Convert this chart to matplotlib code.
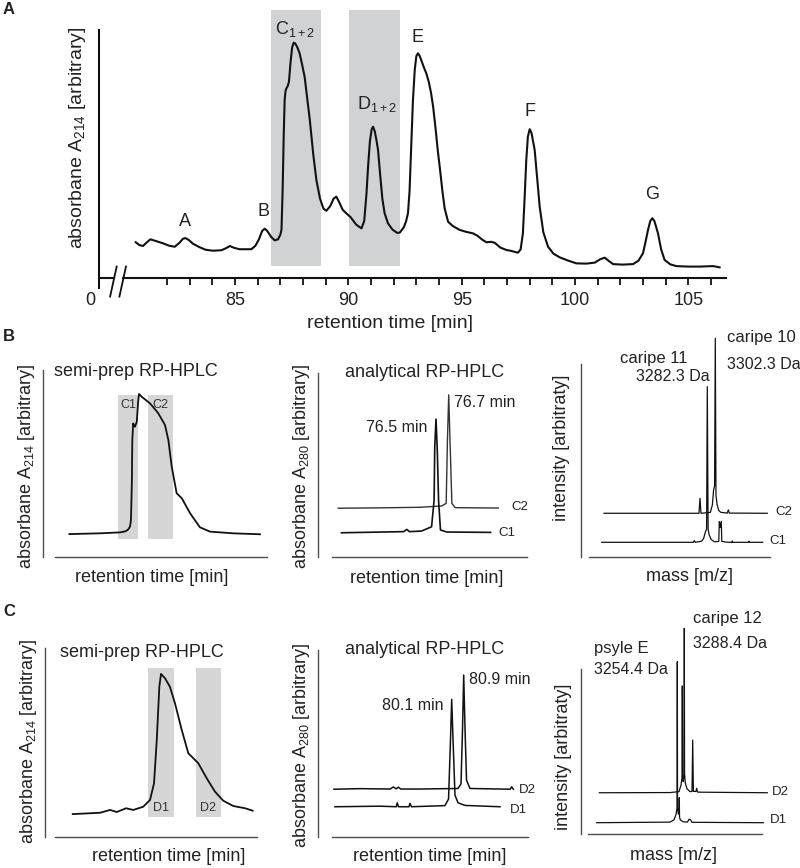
import matplotlib
matplotlib.use('Agg')
import matplotlib.pyplot as plt

# ---- panel A: full chromatogram (retention time in min, absorbance arbitrary) ----
trace_t = [80.62, 80.78, 80.94, 81.1, 81.27, 81.55, 81.82, 82.1, 82.34, 82.55, 82.7, 82.81,
           82.95, 83.15, 83.44, 83.7, 84.03, 84.4, 84.6, 84.77, 84.95, 85.2, 85.72, 85.9,
           86.05, 86.2, 86.31, 86.42, 86.6, 86.75, 86.9, 87.0, 87.05, 87.1, 87.15, 87.19,
           87.23, 87.27, 87.33, 87.38, 87.45, 87.52, 87.59, 87.66, 87.75, 87.85, 87.95, 88.07,
           88.18, 88.3, 88.45, 88.59, 88.75, 88.9, 89.03, 89.2, 89.35, 89.47, 89.6, 89.75,
           89.91, 90.1, 90.35, 90.58, 90.7, 90.8, 90.87, 90.95, 91.03, 91.09, 91.17, 91.25,
           91.31, 91.4, 91.5, 91.6, 91.75, 91.95, 92.15, 92.27, 92.45, 92.55, 92.63, 92.7,
           92.78, 92.85, 92.93, 93.0, 93.07, 93.15, 93.25, 93.35, 93.44, 93.55, 93.65, 93.74,
           93.85, 93.95, 94.03, 94.15, 94.25, 94.4, 94.6, 94.91, 95.2, 95.5, 95.7, 95.9,
           96.09, 96.3, 96.46, 96.7, 96.97, 97.2, 97.48, 97.6, 97.7, 97.78, 97.85, 97.92,
           98.0, 98.08, 98.15, 98.22, 98.33, 98.44, 98.6, 98.81, 99.05, 99.33, 99.7, 100.06,
           100.5, 100.87, 101.1, 101.31, 101.5, 101.68, 102.1, 102.56, 102.8, 103.0, 103.12,
           103.22, 103.32, 103.41, 103.5, 103.58, 103.66, 103.8, 103.95, 104.2, 104.47, 105.0,
           105.5, 106.09, 106.38]
trace_y = [14.4, 13.3, 12.9, 14.3, 15.6, 14.8, 14.0, 13.0, 12.6, 14.2, 15.8, 16.1,
           15.4, 13.8, 12.4, 11.4, 11.0, 11.2, 12.0, 12.9, 12.2, 11.6, 11.6, 13.0,
           15.5, 19.0, 19.9, 19.0, 16.5, 15.2, 15.6, 17.5, 19.4, 35.0, 58.0, 71.8,
           75.5, 76.5, 77.5, 79.2, 87.0, 93.0, 94.9, 94.5, 93.0, 90.6, 86.5, 81.2,
           73.0, 63.7, 50.0, 39.5, 32.0, 28.0, 27.1, 29.0, 32.0, 32.8, 30.5, 27.5,
           26.1, 24.5, 21.5, 20.0, 23.0, 34.0, 44.9, 55.0, 60.0, 61.0, 59.0, 55.0,
           51.6, 42.0, 32.0, 26.1, 22.0, 19.5, 18.2, 18.3, 20.5, 23.0, 26.1, 35.0,
           55.0, 71.8, 84.0, 89.5, 90.6, 89.5, 87.0, 84.5, 82.5, 79.0, 74.5, 69.1,
           60.0, 51.0, 44.9, 35.0, 28.0, 22.7, 21.0, 19.4, 18.6, 18.0, 17.0, 15.5,
           14.4, 14.6, 14.2, 12.3, 11.3, 10.9, 10.2, 11.5, 18.0, 33.0, 47.6, 57.0,
           60.0, 58.5, 55.0, 51.6, 40.0, 28.8, 18.5, 12.6, 9.8, 8.3, 7.0, 5.9,
           5.8, 6.2, 7.5, 8.2, 6.8, 5.6, 5.4, 5.6, 7.0, 10.0, 15.0,
           19.4, 23.0, 24.1, 23.0, 20.5, 18.0, 11.5, 7.3, 5.5, 4.8, 4.6,
           4.6, 4.8, 4.3]
fraction_names = ['C', 'D']
fraction_start = [86.6, 90.03]
fraction_end = [88.81, 92.27]
peak_labels = ['A', 'B', r'C$_\mathregular{1+2}$', r'D$_\mathregular{1+2}$', 'E', 'F', 'G']
peak_label_t = [82.81, 86.24, 87.65, 91.27, 93.07, 98.03, 103.41]
peak_label_y = [22.7, 26.7, 100.3, 70.2, 96.9, 67.3, 33.7]
major_ticks = [85, 90, 95, 100, 105]
minor_ticks = [82, 83, 84, 86, 87, 88, 89, 91, 92, 93, 94, 96, 97, 98, 99, 101, 102, 103, 104, 106]

# ---- panel B ----
semi_b_x = [11.9, 25.6, 34.5, 37.0, 38.2, 39.0, 39.4, 39.8, 40.0, 40.4, 40.8, 41.2, 42.0, 42.6,
            43.0, 44.2, 47.9, 51.6, 54.6, 56.1, 57.6, 59.8, 62.1, 65.8, 70.2, 74.7, 85.1, 97.0]
semi_b_y = [12.4, 12.8, 13.3, 13.9, 14.9, 16.5, 19.9, 40.0, 62.6, 71.5, 70.3, 69.7, 72.4, 83.0,
            87.2, 85.7, 82.2, 76.9, 70.6, 62.6, 48.4, 34.2, 31.5, 23.5, 16.0, 13.7, 12.8, 12.3]
shade_b_names = ['C1', 'C2']
shade_b_x0 = [33.8, 46.9]
shade_b_x1 = [42.4, 58.0]

anal_c2_t = [74.96, 75.6, 76.25, 76.59, 76.66, 76.68, 76.70, 76.72, 76.75, 76.80, 77.48]
anal_c2_y = [26.2, 26.4, 26.7, 27.4, 28.8, 62.6, 86.7, 62.6, 28.8, 26.5, 26.3]
anal_c1_t = [75.01, 75.99, 76.04, 76.08, 76.27, 76.43, 76.47, 76.48, 76.50, 76.52, 76.54,
             76.57, 76.67, 77.36]
anal_c1_y = [13.1, 13.7, 14.9, 13.7, 14.0, 16.3, 30.6, 59.1, 73.8, 57.3, 30.6, 14.6, 13.5, 13.3]

ms_c2_mz = [3024.1, 3261.5, 3264.0, 3266.5, 3290.0, 3295.0, 3298.0, 3300.5, 3302.3, 3304.0,
            3307.0, 3311.0, 3316.0, 3332.3, 3334.8, 3337.3, 3432.3]
ms_c2_i = [23.5, 23.5, 31.5, 23.5, 24.0, 28.0, 35.9, 38.0, 116.9, 33.0, 28.0, 25.0, 24.0,
           23.6, 25.3, 23.6, 23.5]
ms_c1_mz = [3018.3, 3247.3, 3249.8, 3252.3, 3268.0, 3273.0, 3277.8, 3280.5, 3282.3, 3284.3,
            3287.0, 3292.0, 3300.0, 3311.0, 3312.3, 3314.8, 3317.3, 3318.5, 3330.0, 3343.5,
            3344.8, 3346.1, 3385.0, 3386.5, 3388.0, 3420.8]
ms_c1_i = [8.0, 8.0, 8.9, 8.0, 8.6, 10.0, 13.7, 15.0, 91.1, 15.0, 12.0, 9.5, 8.3, 8.5, 19.0,
           16.0, 19.0, 8.5, 8.1, 8.0, 8.7, 8.0, 8.0, 8.6, 8.0, 8.0]

# ---- panel C ----
semi_c_x = [13.1, 26.0, 30.7, 33.9, 38.3, 41.7, 46.4, 49.6, 51.5, 52.8, 54.0, 54.8, 56.7,
            59.0, 61.4, 64.6, 67.7, 70.1, 72.4, 76.4, 80.3, 84.2, 88.9, 94.5, 98.1]
semi_c_y = [12.0, 12.7, 14.2, 13.1, 15.1, 14.2, 15.9, 19.5, 28.3, 51.3, 79.6, 86.4, 84.1,
            79.6, 70.8, 56.6, 44.3, 41.6, 39.0, 31.0, 23.9, 19.1, 16.3, 15.1, 13.8]
shade_c_names = ['D1', 'D2']
shade_c_x0 = [48.8, 71.4]
shade_c_x1 = [61.1, 83.0]

anal_d2_t = [72.25, 73.99, 76.0, 76.21, 76.4, 76.54, 76.7, 77.99, 80.52, 80.72, 80.82, 80.9,
             80.99, 81.09, 81.32, 84.0, 84.1, 84.21]
anal_d2_y = [25.2, 25.5, 25.3, 26.4, 25.4, 26.3, 25.3, 25.3, 25.6, 28.0, 56.6, 85.8, 56.6,
             30.0, 25.6, 25.2, 26.5, 25.2]
anal_d1_t = [72.32, 75.32, 76.4, 76.47, 76.55, 77.25, 77.32, 77.42, 79.65, 79.89, 80.02, 80.1,
             80.19, 80.32, 80.52, 80.99, 83.32]
anal_d1_y = [15.9, 16.2, 15.9, 18.0, 15.9, 15.9, 17.7, 15.9, 16.5, 20.0, 51.3, 72.9, 51.3,
             22.0, 18.0, 16.6, 15.9]

ms_d2_mz = [2875.6, 3218.9, 3262.7, 3272.4, 3277.5, 3278.7, 3280.0, 3283.5, 3287.2, 3288.4,
            3289.6, 3293.3, 3301.5, 3316.1, 3325.8, 3329.2, 3332.6, 3345.0, 3348.6, 3352.0,
            3364.6, 3691.5]
ms_d2_i = [21.9, 22.0, 22.5, 26.0, 30.0, 78.6, 30.0, 27.8, 32.0, 109.2, 32.0, 27.0, 24.0,
           22.5, 22.6, 49.9, 22.6, 22.6, 24.3, 22.3, 22.2, 21.9]
ms_d1_mz = [2863.0, 3219.0, 3238.4, 3248.1, 3253.2, 3254.4, 3255.6, 3259.3, 3263.0, 3264.1,
            3265.2, 3269.0, 3282.0, 3303.9, 3311.2, 3318.5, 3325.8, 3672.0]
ms_d1_i = [6.0, 6.3, 7.5, 10.4, 14.0, 91.5, 14.0, 10.6, 11.0, 19.3, 9.0, 7.5, 6.5, 6.3, 7.8,
           7.6, 6.2, 6.0]

plt.rcParams['font.family'] = ['Liberation Sans', 'DejaVu Sans']
plt.rcParams['mathtext.fontset'] = 'custom'
plt.rcParams['mathtext.rm'] = 'Liberation Sans'
plt.rcParams['mathtext.it'] = 'Liberation Sans:italic'
plt.rcParams['text.color'] = '#222222'

W, H = 800, 868
fig = plt.figure(figsize=(W / 100, H / 100), dpi=100)
INK = '#111111'
AXC = '#4d4d4d'


def add_box(l, t, r, b):
    # axes placed by pixel edges of the figure
    return fig.add_axes([l / W, 1 - b / H, (r - l) / W, (b - t) / H])


def ftext(x, y, s, **kw):
    kw.setdefault('ha', 'center')
    kw.setdefault('va', 'center')
    fig.text(x / W, 1 - y / H, s, **kw)


def small_axes(l, t, r, b, xlim, ylim, xstart, ytop):
    ax = add_box(l, t, r, b)
    ax.set_xlim(*xlim)
    ax.set_ylim(*ylim)
    ax.patch.set_alpha(0)
    for s in ['top', 'right']:
        ax.spines[s].set_visible(False)
    for s in ['left', 'bottom']:
        ax.spines[s].set_color(AXC)
        ax.spines[s].set_linewidth(1.0)
    ax.spines['left'].set_bounds(ylim[0], ytop)
    ax.spines['bottom'].set_bounds(xstart, xlim[1])
    ax.set_xticks([])
    ax.set_yticks([])
    return ax


# ================= panel A =================
axA = add_box(99, 10, 726, 278)
axA.set_xlim(79, 106.66)
axA.set_ylim(0, 108.06)
for s in axA.spines.values():
    s.set_visible(False)
for t0, t1 in zip(fraction_start, fraction_end):
    axA.fill_between([t0, t1], 5.0, 108.06, color='#d1d2d4', lw=0, zorder=0)
axA.plot(trace_t, trace_y, color=INK, lw=1.5, zorder=3)
axA.plot([79, 79], [-4, 100], color=INK, lw=1.5, clip_on=False)
axA.plot([79, 79.66], [0, 0], color=INK, lw=1.5, clip_on=False)
axA.plot([80.06, 106.66], [0, 0], color=INK, lw=1.5, clip_on=False)
axA.plot([79.49, 79.78], [-7.5, 4.6], color=INK, lw=1.3, clip_on=False)
axA.plot([79.90, 80.19], [-7.5, 4.6], color=INK, lw=1.3, clip_on=False)
axA.set_xticks(major_ticks)
axA.set_xticks(minor_ticks, minor=True)
axA.set_yticks([])
axA.tick_params(axis='x', which='both', length=5, width=1.3, color=INK,
                direction='out', pad=5, labelsize=13, labelcolor='#222222')
axA.text(78.6, -5.6, '0', ha='center', va='top', fontsize=13, clip_on=False)
for lab, t, y in zip(peak_labels, peak_label_t, peak_label_y):
    axA.text(t, y, lab, ha='center', va='center', fontsize=13)
ftext(77, 137.5, r'absorbane A$_\mathregular{214}$ [arbitrary]', rotation=90, fontsize=14)
ftext(389.7, 323, 'retention time [min]', fontsize=14)

# ================= panel B =================
axB1 = small_axes(42.7, 370, 266.7, 557.3, (0, 100), (0, 100), 5.5, 100)
for name, x0, x1 in zip(shade_b_names, shade_b_x0, shade_b_x1):
    axB1.fill_between([x0, x1], 9.7, 86.7, color='#d6d6d6', lw=0, zorder=0)
    axB1.text((x0 + x1) / 2, 81.3, name, ha='center', va='center', fontsize=9, color='#333333')
axB1.plot(semi_b_x, semi_b_y, color=INK, lw=1.3, zorder=3)

axB2 = small_axes(318.3, 373.3, 527, 557.3, (74.646, 77.933), (0, 98.24), 74.86, 98.24)
axB2.plot(anal_c2_t, anal_c2_y, color='#333333', lw=1.0, clip_on=False)
axB2.plot(anal_c1_t, anal_c1_y, color=INK, lw=1.2, clip_on=False)
axB2.text(75.88, 69.4, '76.5 min', ha='center', va='center', fontsize=11.5)
axB2.text(77.26, 82.5, '76.7 min', ha='center', va='center', fontsize=11.5)
axB2.text(77.82, 27.0, 'C2', ha='center', va='center', fontsize=9.5)
axB2.text(77.61, 12.8, 'C1', ha='center', va='center', fontsize=9.5)

axB3 = small_axes(581, 364, 770, 557.3, (2966.55, 3439.05), (0, 103.2), 2987.3, 103.2)
axB3.plot(ms_c2_mz, ms_c2_i, color=INK, lw=0.9, clip_on=False)
axB3.plot(ms_c1_mz, ms_c1_i, color=INK, lw=0.9, clip_on=False)
axB3.text(3147.3, 105.9, 'caripe 11', ha='center', va='center', fontsize=12, clip_on=False)
axB3.text(3289.0, 96.4, '3282.3 Da', ha='right', va='center', fontsize=11.5)
axB3.text(3330.8, 117.2, 'caripe 10', ha='left', va='center', fontsize=12, clip_on=False)
axB3.text(3330.8, 103.0, '3302.3 Da', ha='left', va='center', fontsize=11.5)
axB3.text(3474.8, 24.0, 'C2', ha='center', va='center', fontsize=9.5)
axB3.text(3459.8, 8.7, 'C1', ha='center', va='center', fontsize=9.5)

ftext(26.7, 466.7, r'absorbane A$_\mathregular{214}$ [arbitrary]', rotation=90, fontsize=13)
ftext(301.7, 466.7, r'absorbane A$_\mathregular{280}$ [arbitrary]', rotation=90, fontsize=13)
ftext(561.7, 448.3, 'intensity [arbitraty]', rotation=90, fontsize=13)
ftext(152, 578, 'retention time [min]', fontsize=13)
ftext(426.7, 578.3, 'retention time [min]', fontsize=13)
ftext(690, 576.7, 'mass [m/z]', fontsize=13)
ftext(54, 371.7, 'semi-prep RP-HPLC', ha='left', fontsize=13)
ftext(345, 372.3, 'analytical RP-HPLC', ha='left', fontsize=13)

# ================= panel C =================
axC1 = small_axes(45, 648.3, 256.7, 836.7, (0, 100), (0, 100), 4.7, 100)
for name, x0, x1 in zip(shade_c_names, shade_c_x0, shade_c_x1):
    axC1.fill_between([x0, x1], 10.2, 89.4, color='#d6d6d6', lw=0, zorder=0)
    axC1.text((x0 + x1) / 2, 15.1, name, ha='center', va='center', fontsize=9, color='#333333')
axC1.plot(semi_c_x, semi_c_y, color=INK, lw=1.3, zorder=3)

axC2 = small_axes(318.3, 650, 528, 836.7, (71.207, 85.187), (0, 99.1), 72.1, 99.1)
axC2.plot(anal_d2_t, anal_d2_y, color=INK, lw=1.1, clip_on=False)
axC2.plot(anal_d1_t, anal_d1_y, color=INK, lw=1.1, clip_on=False)
axC2.text(77.5, 69.9, '80.1 min', ha='center', va='center', fontsize=11.5)
axC2.text(83.32, 83.2, '80.9 min', ha='center', va='center', fontsize=11.5)
axC2.text(85.12, 24.7, 'D2', ha='center', va='center', fontsize=9.5)
axC2.text(84.57, 14.2, 'D1', ha='center', va='center', fontsize=9.5)

axC3 = small_axes(580.7, 669, 761.7, 834, (2785.2, 3664.3), (0, 87.6), 2822, 87.6)
axC3.plot(ms_d2_mz, ms_d2_i, color=INK, lw=0.9, clip_on=False)
axC3.plot(ms_d1_mz, ms_d1_i, color=INK, lw=0.9, clip_on=False)
axC3.text(3332.1, 114.5, 'caripe 12', ha='left', va='center', fontsize=12)
axC3.text(3332.1, 101.2, '3288.4 Da', ha='left', va='center', fontsize=11.5)
axC3.text(2851.3, 98.6, 'psyle E', ha='left', va='center', fontsize=12)
axC3.text(2851.3, 87.6, '3254.4 Da', ha='left', va='center', fontsize=11.5)
axC3.text(3756.6, 22.4, 'D2', ha='center', va='center', fontsize=9.5)
axC3.text(3745.0, 7.4, 'D1', ha='center', va='center', fontsize=9.5)

ftext(28.3, 741.7, r'absorbane A$_\mathregular{214}$ [arbitrary]', rotation=90, fontsize=13)
ftext(301.7, 745, r'absorbane A$_\mathregular{280}$ [arbitrary]', rotation=90, fontsize=13)
ftext(563.3, 756.7, 'intensity [arbitraty]', rotation=90, fontsize=13)
ftext(168.3, 856.7, 'retention time [min]', fontsize=13)
ftext(430, 856.7, 'retention time [min]', fontsize=13)
ftext(673.3, 855, 'mass [m/z]', fontsize=13)
ftext(60, 652.3, 'semi-prep RP-HPLC', ha='left', fontsize=13)
ftext(345, 650, 'analytical RP-HPLC', ha='left', fontsize=13)

# panel letters
ftext(3, 2, 'A', ha='left', va='top', fontsize=12, fontweight='bold')
ftext(3, 329, 'B', ha='left', va='top', fontsize=12, fontweight='bold')
ftext(3, 604, 'C', ha='left', va='top', fontsize=12, fontweight='bold')

fig.savefig('out.png', dpi=100)
